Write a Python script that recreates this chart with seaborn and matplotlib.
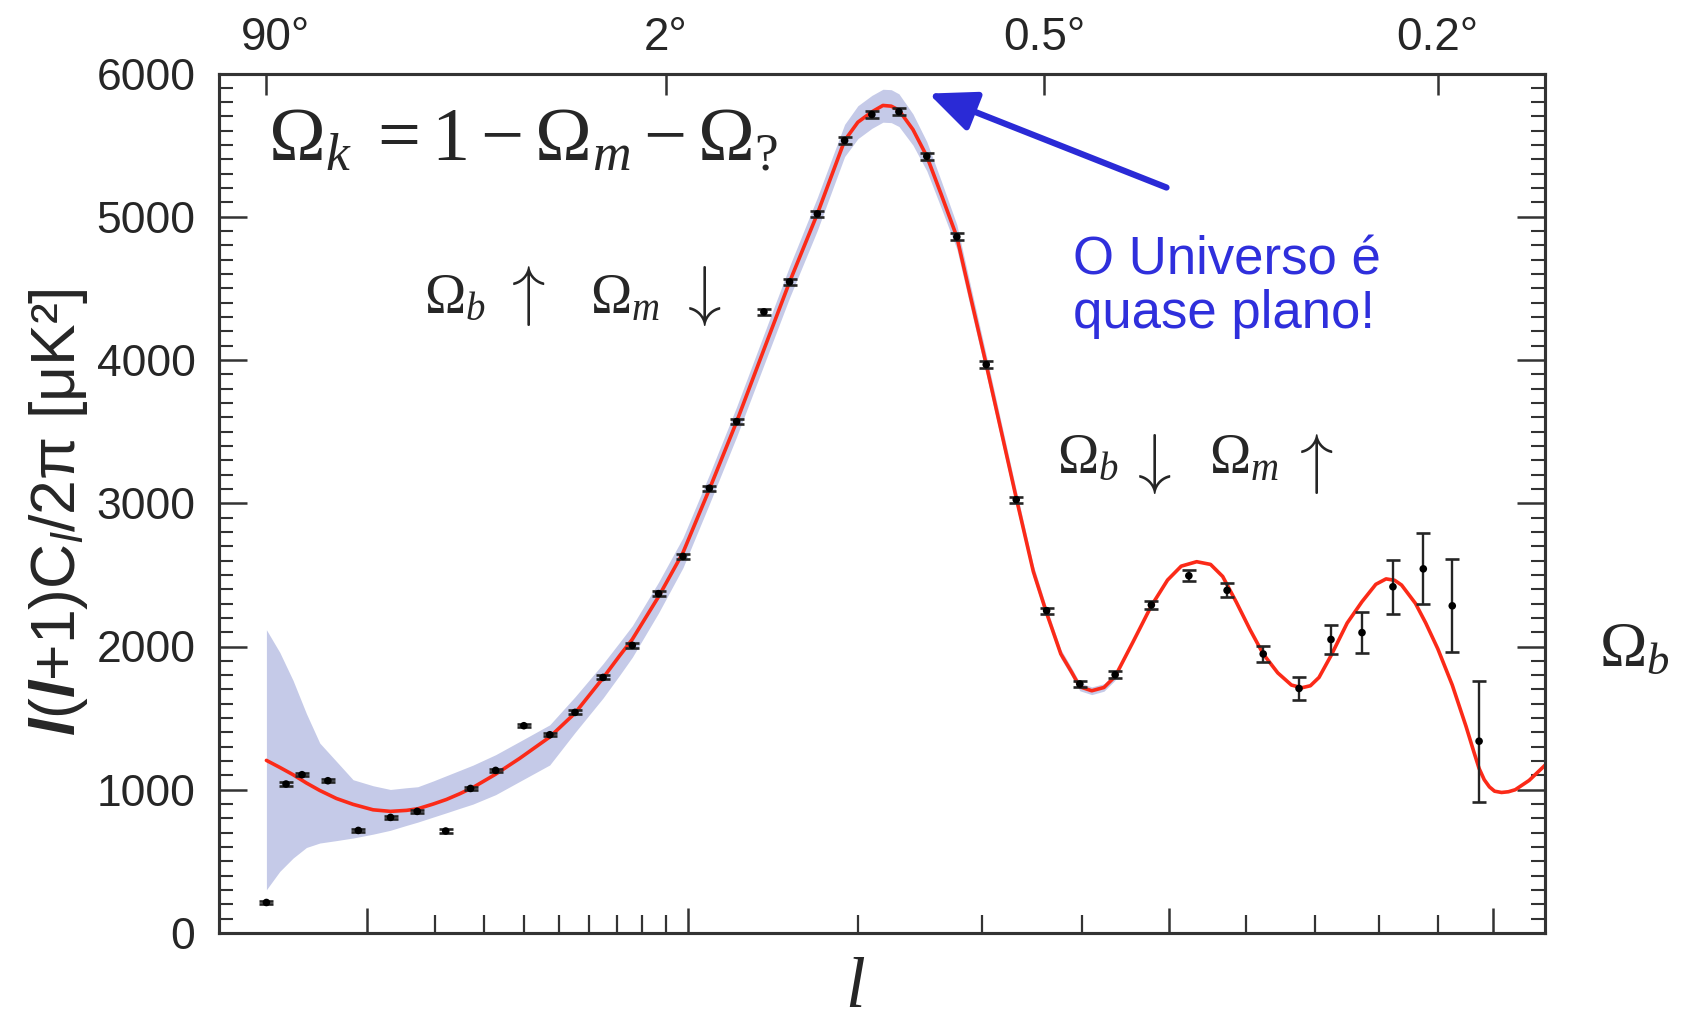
import numpy as np
import pandas as pd
import matplotlib
matplotlib.use('Agg')
import matplotlib.pyplot as plt
import matplotlib.transforms as mtransforms
import seaborn as sns
from matplotlib.ticker import FixedLocator, NullFormatter, NullLocator, MultipleLocator

# ---------------- data ----------------
curve_l = [2.0, 2.655, 3.42, 4.309, 5.32, 6.769, 8.43, 10.72, 12.98, 15.30, 17.08, 19.69,
           22.13, 24.75, 27.54, 32.72, 38.78, 47.26, 55.21, 64.87, 71.07, 76.0, 86.9, 97.8,
           110.5, 124.6, 139.7, 154.9, 172.4, 190.7, 200, 210.1, 218.3, 224.6, 230.5, 241.5,
           252.7, 264.7, 278, 290.6, 304.2, 332.4, 349.1, 362.3, 377.1, 388.0, 397.2, 410.1,
           423.6, 436.2, 456.8, 478.5, 498.2, 515.2, 534.8, 552.8, 568.8, 587.2, 606.1, 624.3,
           645.0, 664.8, 680.1, 692.9, 705.9, 724.2, 749.4, 772.9, 795.2, 812, 826.3, 837.8,
           861.3, 879.0, 900.0, 925.6, 950.3, 964.7, 974.2, 983.7, 993.3, 1002.9, 1016, 1029,
           1042, 1068.8, 1100]
curve_v = [1205, 1156, 1105, 1047, 995, 939, 898, 860, 849, 856, 867, 900,
           932, 972, 1016, 1109, 1219, 1368, 1535, 1780, 1936, 2050, 2348, 2655,
           3098, 3570, 4073, 4545, 5020, 5532, 5660, 5732, 5777, 5772, 5744, 5609,
           5422, 5155, 4860, 4422, 3968, 3037, 2524, 2237, 1948, 1826, 1719, 1691,
           1714, 1791, 2032, 2284, 2464, 2561, 2592, 2573, 2489, 2309, 2116, 1948,
           1816, 1731, 1712, 1726, 1784, 1936, 2164, 2313, 2434, 2472, 2462, 2429,
           2301, 2164, 1984, 1731, 1443, 1263, 1149, 1070, 1020, 990, 981, 986,
           1000, 1065, 1171]
# cosmic-variance band (first 50 curve nodes, up to l = 436)
band_lo = [302, 430, 523, 597, 628, 645, 663, 690, 717, 751, 774, 809,
           839, 870, 900, 966, 1058, 1173, 1400, 1640, 1800, 1925, 2235, 2550,
           2995, 3465, 3965, 4435, 4905, 5420, 5545, 5617, 5660, 5657, 5630, 5500,
           5320, 5060, 4775, 4345, 3900, 2982, 2480, 2200, 1916, 1796, 1691, 1664,
           1688, 1765]
band_hi = [2117, 1959, 1763, 1531, 1326, 1198, 1070, 1028, 1002, 1014, 1021, 1061,
           1098, 1135, 1172, 1245, 1337, 1453, 1649, 1880, 2030, 2145, 2450, 2760,
           3200, 3675, 4180, 4655, 5135, 5645, 5775, 5847, 5890, 5887, 5858, 5718,
           5524, 5250, 4945, 4499, 4036, 3092, 2568, 2274, 1980, 1856, 1747, 1718,
           1740, 1817]

pts_l = [2, 3, 4, 6, 9, 13, 17, 22, 27, 32.7, 39.9, 47.3, 55.2, 64.9, 76.0, 86.9, 97.8,
         110.5, 124.6, 139.7, 154.9, 172.4, 190.7, 210.1, 230.5, 252.7, 278.0, 304.2, 332.4,
         362.5, 397.2, 436.2, 478.5, 524.8, 574.7, 624.3, 676.0, 724.2, 772.9, 823.4, 874.8,
         925.6, 974.2]
pts_v = [213, 1040, 1105, 1063, 716, 807, 849, 712, 1009, 1135, 1447, 1384, 1540, 1784, 2008,
         2369, 2629, 3105, 3570, 4336, 4545, 5020, 5532, 5714, 5733, 5422, 4860, 3968, 3025,
         2250, 1738, 1803, 2290, 2494, 2392, 1948, 1707, 2049, 2097, 2417, 2542, 2284, 1339]
pts_err = [12, 12, 12, 12, 12, 12, 12, 12, 12, 12, 12, 12, 14, 14, 15, 15, 16,
           18, 18, 20, 20, 22, 22, 24, 24, 24, 24, 22, 20,
           22, 24, 26, 30, 40, 48, 56, 77, 102, 142, 187, 247, 325, 422]

xticks_major = [10, 100, 500, 1000]
xticks_minor = [20, 30, 40, 50, 60, 70, 80, 90, 200, 300, 400, 600, 700, 800, 900]
top_ticks = [2, 90, 360, 900]
top_labels = ['90°', '2°', '0.5°', '0.2°']

# ---------------- style ----------------
sns.set_style('white')
plt.rcParams['font.family'] = ['Liberation Sans', 'DejaVu Sans']
plt.rcParams['mathtext.fontset'] = 'custom'
plt.rcParams['mathtext.rm'] = 'Liberation Serif'
plt.rcParams['mathtext.it'] = 'Liberation Serif:italic'
plt.rcParams['mathtext.bf'] = 'Liberation Serif:bold'
plt.rcParams['mathtext.sf'] = 'Liberation Sans:italic'
try:
    plt.rcParams['mathtext.bfit'] = 'Liberation Sans:italic:bold'
    HAS_BFIT = True
except Exception:
    HAS_BFIT = False

W, H = 1682, 1025
fig = plt.figure(figsize=(W / 100, H / 100), dpi=100)
L, R, T, B = 219, 1545, 73.5, 933
ax = fig.add_axes([L / W, 1 - B / H, (R - L) / W, (B - T) / H])

fwd = lambda x: np.power(np.clip(x, 1e-12, None), 0.4)
inv = lambda y: np.power(np.clip(y, 0, None), 2.5)
ax.set_xscale('function', functions=(fwd, inv))
ax.set_xlim(0.5, 1100)
ax.set_ylim(0, 6000)

curve = pd.DataFrame({'l': curve_l, 'v': curve_v})
nb = len(band_lo)
band = pd.DataFrame({'l': curve_l[:nb], 'lo': band_lo, 'hi': band_hi})
pts = pd.DataFrame({'l': pts_l, 'v': pts_v, 'err': pts_err})

ax.fill_between(band['l'], band['lo'], band['hi'], color='#c5cae8', lw=0, zorder=1)
sns.lineplot(data=curve, x='l', y='v', ax=ax, color='#fb2a18', lw=2.6, sort=False,
             estimator=None, zorder=3)
ax.errorbar(pts['l'], pts['v'], yerr=pts['err'], fmt='none', ecolor='#252525',
            elinewidth=1.7, capsize=5, capthick=1.9, zorder=4)
sns.scatterplot(data=pts, x='l', y='v', ax=ax, color='black', s=30, edgecolor='none',
                zorder=5)

# ticks
ax.xaxis.set_major_locator(FixedLocator(xticks_major))
ax.xaxis.set_minor_locator(FixedLocator(xticks_minor))
ax.xaxis.set_major_formatter(NullFormatter())
ax.xaxis.set_minor_formatter(NullFormatter())
ax.tick_params(axis='x', which='major', direction='in', length=18, width=1.8,
               bottom=True, top=False, labelbottom=False, color='#333333')
ax.tick_params(axis='x', which='minor', direction='in', length=13, width=1.6,
               bottom=True, top=False, color='#333333')
ax.yaxis.set_major_locator(MultipleLocator(1000))
ax.yaxis.set_minor_locator(MultipleLocator(100))
ax.tick_params(axis='y', which='major', direction='in', length=20, width=1.8,
               left=True, right=True, labelsize=32, pad=17, color='#333333')
ax.tick_params(axis='y', which='minor', direction='in', length=10, width=1.5,
               left=True, right=True, color='#333333')
ax.set_xlabel('')
ax.set_ylabel('')

axt = ax.twiny()
axt.set_xscale('function', functions=(fwd, inv))
axt.set_xlim(0.5, 1100)
axt.set_xticks(top_ticks)
axt.set_xticklabels(top_labels)
axt.xaxis.set_minor_locator(NullLocator())
axt.tick_params(axis='x', direction='in', length=15, width=1.8, labelsize=33, pad=10,
                top=True, bottom=False, color='#333333')
# the first top label sits slightly to the right of its tick in the reference
first_lbl = axt.get_xticklabels()[0]
first_lbl.set_transform(first_lbl.get_transform() +
                        mtransforms.ScaledTranslation(0.09, 0, fig.dpi_scale_trans))
for a in (ax, axt):
    for sp in a.spines.values():
        sp.set_linewidth(2.2)
        sp.set_color('#333333')

# axis labels
if HAS_BFIT:
    ylab = r'$\mathbfit{l}$($\mathbfit{l}$+1)C$_{\mathsf{l}}$/2π [μK²]'
else:
    ylab = r'$\mathbf{l}$($\mathbf{l}$+1)C$_l$/2π [μK²]'
ytxt = ax.text(-0.121, 0.4898, ylab, transform=ax.transAxes, rotation=90, ha='center',
               va='center', fontsize=45, family=['Liberation Sans', 'DejaVu Sans'])
ax.text(0.4796, -0.1040, 'l', transform=ax.transAxes, ha='center', va='bottom',
        fontsize=51, family='Liberation Serif', style='italic')

serif = ['Liberation Serif', 'DejaVu Serif']
ax.text(2.062, 5399, r'$\Omega_k\;=1-\Omega_m-\Omega_?$', fontsize=55, family=serif,
        ha='left', va='baseline')
ax.text(18.08, 4324, r'$\Omega_b$', fontsize=40, family=serif, ha='left', va='baseline')
ax.text(60.11, 4324, r'$\Omega_m$', fontsize=40, family=serif, ha='left', va='baseline')
ax.text(372.7, 3207, r'$\Omega_b$', fontsize=40, family=serif, ha='left', va='baseline')
ax.text(551.3, 3207, r'$\Omega_m$', fontsize=40, family=serif, ha='left', va='baseline')
ax.text(1210.6, 1859, r'$\Omega_b$', fontsize=46, family=serif, ha='left', va='baseline',
        clip_on=False)
# the up/down arrows of the annotations (glyphs)
for xa, ya, sym in [(39.58, 4445, r'$\uparrow$'), (105.22, 4445, r'$\downarrow$'),
                    (475.06, 3277, r'$\downarrow$'), (694.5, 3277, r'$\uparrow$')]:
    ax.text(xa, ya, sym, fontsize=48, math_fontfamily='cm', ha='center', va='center')

blue = '#2f2fdc'
ax.text(389.4, 4599, 'O Universo é', color=blue, fontsize=38, ha='left', va='baseline')
ax.text(389.4, 4226, 'quase plano!', color=blue, fontsize=38, ha='left', va='baseline')
ax.annotate('', xy=(254.2, 5860), xytext=(496.9, 5204),
            arrowprops=dict(arrowstyle='-|>,head_length=1.15,head_width=0.5',
                            color='#2a2ad6', lw=4.5, mutation_scale=25,
                            shrinkA=0, shrinkB=0))

try:
    fig.canvas.draw()
except Exception:
    ytxt.set_text(r'$\mathbf{l}$($\mathbf{l}$+1)C$_l$/2π [μK²]')

fig.savefig('out.png', dpi=100)
